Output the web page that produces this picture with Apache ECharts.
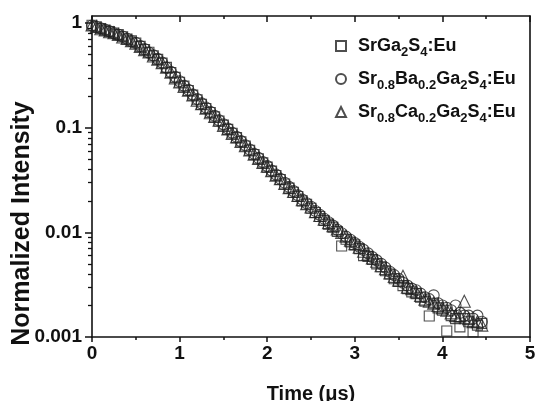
<!DOCTYPE html>
<html>
<head>
<meta charset="utf-8">
<script src="https://cdn.jsdelivr.net/npm/echarts@6/dist/echarts.min.js"></script>
<style>html,body{margin:0;padding:0;background:#fff}#c{width:536px;height:401px}</style>
</head>
<body>
<div id="c"></div>
<script>
// ---- data ----
const time = [0.00,0.05,0.10,0.15,0.20,0.25,0.30,0.35,0.40,0.45,
  0.50,0.55,0.60,0.65,0.70,0.75,0.80,0.85,0.90,0.95,
  1.00,1.05,1.10,1.15,1.20,1.25,1.30,1.35,1.40,1.45,
  1.50,1.55,1.60,1.65,1.70,1.75,1.80,1.85,1.90,1.95,
  2.00,2.05,2.10,2.15,2.20,2.25,2.30,2.35,2.40,2.45,
  2.50,2.55,2.60,2.65,2.70,2.75,2.80,2.85,2.90,2.95,
  3.00,3.05,3.10,3.15,3.20,3.25,3.30,3.35,3.40,3.45,
  3.50,3.55,3.60,3.65,3.70,3.75,3.80,3.85,3.90,3.95,
  4.00,4.05,4.10,4.15,4.20,4.25,4.30,4.35,4.40,4.45];

const srGaS = [0.955,0.925,0.889,0.858,0.830,0.805,0.778,0.740,0.706,0.678,
  0.645,0.600,0.560,0.527,0.488,0.450,0.415,0.378,0.337,0.303,
  0.272,0.250,0.227,0.205,0.185,0.168,0.153,0.140,0.127,0.116,
  0.106,0.0965,0.0885,0.0805,0.0735,0.0670,0.0610,0.0555,0.0505,0.0462,
  0.0420,0.0385,0.0350,0.0320,0.0290,0.0265,0.0242,0.0220,0.0200,0.0186,
  0.0170,0.0155,0.0142,0.0130,0.0120,0.0112,0.0102,0.0074,0.0086,0.0081,
  0.0076,0.0070,0.0060,0.0059,0.0055,0.0050,0.0047,0.0043,0.0040,0.0036,
  0.0034,0.0031,0.0029,0.0027,0.0026,0.0024,0.0022,0.00159,0.0021,0.0019,
  0.0018,0.00114,0.0016,0.0015,0.00125,0.0015,0.0014,0.00112,0.0013,0.00135];

const srBaGaS = [0.950,0.918,0.893,0.865,0.835,0.800,0.772,0.745,0.710,0.672,
  0.648,0.605,0.565,0.522,0.492,0.455,0.420,0.374,0.342,0.307,
  0.278,0.252,0.231,0.208,0.188,0.171,0.156,0.142,0.130,0.118,
  0.108,0.0985,0.0895,0.0820,0.0745,0.0680,0.0620,0.0565,0.0515,0.0470,
  0.0430,0.0390,0.0358,0.0326,0.0298,0.0272,0.0248,0.0226,0.0206,0.0190,
  0.0176,0.0160,0.0147,0.0135,0.0125,0.0116,0.0106,0.0098,0.0091,0.0085,
  0.0079,0.0073,0.0068,0.0063,0.0058,0.0054,0.0050,0.0046,0.0042,0.0039,
  0.0036,0.0033,0.0031,0.0029,0.0028,0.0026,0.0024,0.0023,0.0025,0.0021,
  0.0020,0.0019,0.0018,0.0020,0.0017,0.0016,0.0016,0.0015,0.0016,0.0014];

const srCaGaS = [0.960,0.928,0.885,0.860,0.828,0.808,0.780,0.738,0.712,0.680,
  0.642,0.598,0.558,0.530,0.485,0.452,0.418,0.380,0.340,0.300,
  0.274,0.248,0.229,0.206,0.183,0.170,0.154,0.139,0.128,0.118,
  0.105,0.0975,0.0880,0.0815,0.0740,0.0672,0.0615,0.0560,0.0510,0.0465,
  0.0428,0.0388,0.0352,0.0325,0.0294,0.0268,0.0246,0.0226,0.0205,0.0188,
  0.0175,0.0158,0.0145,0.0134,0.0124,0.0116,0.0108,0.0100,0.0092,0.0084,
  0.0078,0.0072,0.0066,0.0062,0.0057,0.0053,0.0048,0.0045,0.0041,0.0038,
  0.0035,0.0038,0.0030,0.0029,0.0027,0.0025,0.0023,0.0022,0.0021,0.0020,
  0.0019,0.0018,0.0017,0.0016,0.0016,0.0022,0.0015,0.0014,0.0014,0.0013];

const seriesNames = ['SrGa2S4:Eu', 'Sr0.8Ba0.2Ga2S4:Eu', 'Sr0.8Ca0.2Ga2S4:Eu'];
const legendRich = {
  'SrGa2S4:Eu': '{g| }{m|SrGa}{s|2}{m|S}{s|4}{m|:Eu}',
  'Sr0.8Ba0.2Ga2S4:Eu': '{g| }{m|Sr}{s|0.8}{m|Ba}{s|0.2}{m|Ga}{s|2}{m|S}{s|4}{m|:Eu}',
  'Sr0.8Ca0.2Ga2S4:Eu': '{g| }{m|Sr}{s|0.8}{m|Ca}{s|0.2}{m|Ga}{s|2}{m|S}{s|4}{m|:Eu}'
};
const xTicks = [0, 1, 2, 3, 4, 5];
const yMajor = [0.001, 0.01, 0.1, 1];
const yMinor = [0.002,0.003,0.004,0.005,0.006,0.007,0.008,0.009,
  0.02,0.03,0.04,0.05,0.06,0.07,0.08,0.09,
  0.2,0.3,0.4,0.5,0.6,0.7,0.8,0.9];
const yMin = 0.001, yMax = 1.17;

// ---- chart ----
const FONT = '"Liberation Sans", Arial, Helvetica, sans-serif';
const INK = '#111';
const MARK = '#222';
const chart = echarts.init(document.getElementById('c'), null, {renderer: 'canvas'});

function pts(vals) { return vals.map((v, i) => [time[i], v]); }
const symbols = ['rect', 'circle', 'triangle'];
const sizes = [10, 11, 12];
const datasets = [srGaS, srBaGaS, srCaGaS];

const axisLineStyle = {color: INK, width: 1.6};

chart.setOption({
  animation: false,
  backgroundColor: '#fff',
  grid: {left: 92, right: 6, top: 16, bottom: 64, containLabel: false, outerBoundsMode: 'none'},
  legend: {
    orient: 'vertical',
    left: 330, top: 32,
    itemWidth: 10, itemHeight: 10, itemGap: 11,
    data: seriesNames,
    formatter: name => legendRich[name],
    textStyle: {
      color: INK,
      rich: {
        g: {width: 7, fontSize: 10},
        m: {fontFamily: FONT, fontWeight: 'bold', fontSize: 18, lineHeight: 26, verticalAlign: 'middle', color: INK},
        s: {fontFamily: FONT, fontWeight: 'bold', fontSize: 13, lineHeight: 13, verticalAlign: 'bottom', color: INK}
      }
    }
  },
  xAxis: [{
    type: 'value', min: 0, max: 5, interval: 1, position: 'bottom',
    name: 'Time (μs)', nameLocation: 'middle', nameGap: 47, nameMoveOverlap: false,
    nameTextStyle: {fontFamily: FONT, fontWeight: 'bold', fontSize: 20, color: INK},
    axisLine: {show: true, onZero: false, lineStyle: axisLineStyle},
    axisTick: {show: true, inside: false, length: 5, lineStyle: {color: INK, width: 1.5}},
    minorTick: {show: true, splitNumber: 2, length: 3, lineStyle: {color: INK, width: 1.5}},
    axisLabel: {margin: 7, fontFamily: FONT, fontWeight: 'bold', fontSize: 19, color: INK,
      formatter: v => xTicks.includes(v) ? String(v) : ''},
    splitLine: {show: false}
  }, {
    type: 'value', min: 0, max: 5, interval: 1, position: 'top',
    axisLine: {show: true, onZero: false, lineStyle: axisLineStyle},
    axisTick: {show: true, inside: true, length: 6, lineStyle: {color: INK, width: 1.5}},
    minorTick: {show: true, splitNumber: 2, length: 3, lineStyle: {color: INK, width: 1.5}},
    axisLabel: {show: false},
    splitLine: {show: false}
  }],
  yAxis: [{
    type: 'log', min: yMin, max: yMax, position: 'left', logBase: 10,
    name: 'Normalized Intensity', nameLocation: 'middle', nameRotate: 90, nameGap: 57, nameMoveOverlap: false,
    nameTextStyle: {fontFamily: FONT, fontWeight: 'bold', fontSize: 25, color: INK, padding: [0, 94, 0, 0]},
    axisLine: {show: true, onZero: false, lineStyle: axisLineStyle},
    axisTick: {show: true, inside: false, length: 7, customValues: yMajor, lineStyle: {color: INK, width: 1.5}},
    axisLabel: {margin: 10, fontFamily: FONT, fontWeight: 'bold', fontSize: 19, color: INK,
      customValues: yMajor, formatter: v => String(+(+v).toPrecision(1))},
    splitLine: {show: false}, minorTick: {show: false}
  }, {
    type: 'log', min: yMin, max: yMax, position: 'left', logBase: 10,
    axisLine: {show: false},
    axisTick: {show: true, inside: false, length: 4, customValues: yMinor, lineStyle: {color: INK, width: 1.3}},
    axisLabel: {show: false},
    splitLine: {show: false}
  }, {
    type: 'log', min: yMin, max: yMax, position: 'right', logBase: 10,
    axisLine: {show: true, onZero: false, lineStyle: axisLineStyle},
    axisTick: {show: false}, axisLabel: {show: false}, splitLine: {show: false}
  }],
  series: datasets.map((d, k) => ({
    name: seriesNames[k],
    type: 'scatter',
    xAxisIndex: 0, yAxisIndex: 0,
    symbol: symbols[k], symbolSize: sizes[k],
    itemStyle: {color: 'rgba(255,255,255,0)', borderColor: MARK, borderWidth: 1.1},
    data: pts(d)
  }))
});
</script>
</body>
</html>
